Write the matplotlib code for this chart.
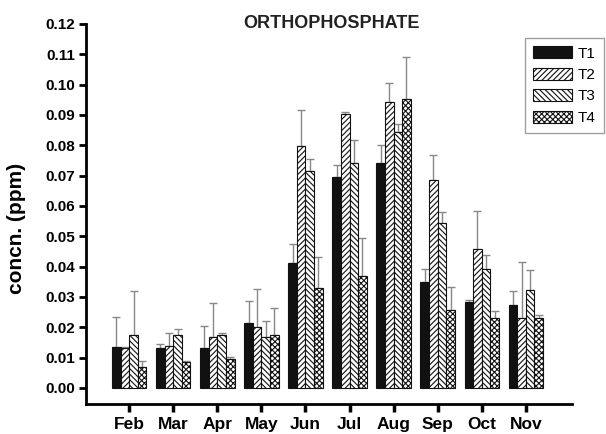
import matplotlib
matplotlib.use("Agg")
import matplotlib.pyplot as plt
import numpy as np

months = ["Feb", "Mar", "Apr", "May", "Jun", "Jul", "Aug", "Sep", "Oct", "Nov"]
series = ["T1", "T2", "T3", "T4"]

t1 = [0.0136, 0.0131, 0.0131, 0.0215, 0.0413, 0.0695, 0.0740, 0.0348, 0.0283, 0.0274]
t2 = [0.0133, 0.0138, 0.0169, 0.0202, 0.0798, 0.0903, 0.0944, 0.0684, 0.0457, 0.0230]
t3 = [0.0175, 0.0175, 0.0174, 0.0169, 0.0715, 0.0741, 0.0842, 0.0545, 0.0391, 0.0323]
t4 = [0.0070, 0.0087, 0.0095, 0.0175, 0.0331, 0.0370, 0.0953, 0.0257, 0.0230, 0.0230]

t1_err = [0.0235, 0.0144, 0.0204, 0.0286, 0.0475, 0.0735, 0.0801, 0.0392, 0.0290, 0.0318]
t2_err = [0.0136, 0.0180, 0.0279, 0.0325, 0.0917, 0.0908, 0.1005, 0.0768, 0.0584, 0.0416]
t3_err = [0.0318, 0.0193, 0.0180, 0.0221, 0.0754, 0.0818, 0.0870, 0.0581, 0.0439, 0.0389]
t4_err = [0.0089, 0.0090, 0.0103, 0.0265, 0.0431, 0.0494, 0.1090, 0.0332, 0.0254, 0.0241]

values = [t1, t2, t3, t4]
err_tops = [t1_err, t2_err, t3_err, t4_err]

plt.rcParams['font.family'] = ['Liberation Sans', 'DejaVu Sans']
plt.rcParams['hatch.color'] = '#333333'
plt.rcParams['hatch.linewidth'] = 0.8

fig = plt.figure(figsize=(6.06, 4.34), dpi=100)
ax = fig.add_axes([0.142, 0.069, 0.802, 0.876])

x = np.arange(len(months))
w = 0.195
styles = [dict(color='#111111', hatch=None),
          dict(color='white', hatch='//////'),
          dict(color='white', hatch='\\\\\\\\\\\\'),
          dict(color='white', hatch='xxxxxx')]

for i, (vals, tops, st) in enumerate(zip(values, err_tops, styles)):
    pos = x + (i - 1.5) * w
    ax.bar(pos, vals, width=w, facecolor=st['color'], edgecolor='#111111',
           linewidth=0.8, hatch=st['hatch'], label=series[i], zorder=3)
    up = np.maximum(np.array(tops) - np.array(vals), 0)
    ax.errorbar(pos, vals, yerr=[np.zeros_like(up), up], fmt='none',
                ecolor='#888888', elinewidth=1.0, capsize=3, capthick=1.0, zorder=2)

ax.set_xlim(-0.98, 10.05)
ax.set_ylim(-0.0053, 0.12)
yt = np.arange(0, 0.1201, 0.01)
ax.set_yticks(yt)
ax.set_yticklabels([f"{v:.2f}" for v in yt])
ax.set_xticks(x)
ax.set_xticklabels(months)

for s in ['top', 'right']:
    ax.spines[s].set_visible(False)
for s in ['left', 'bottom']:
    ax.spines[s].set_linewidth(2)
ax.tick_params(axis='y', width=2, length=5, direction='out', labelsize=11, pad=3)
ax.tick_params(axis='x', width=2.5, length=6, direction='out', labelsize=12.5, pad=3)
for lbl in ax.get_xticklabels() + ax.get_yticklabels():
    lbl.set_fontweight('bold')

fig.text(17 / 606, 1 - 228 / 434, "concn. (ppm)", rotation=90, fontsize=15,
         fontweight='bold', ha='center', va='center')
fig.text(331 / 606, 1 - 23 / 434, "ORTHOPHOSPHATE", fontsize=13,
         fontweight='bold', ha='center', va='center', color='#222222')

leg = ax.legend(loc='upper right', bbox_to_anchor=((604 - 86) / 486, (404 - 38) / 380),
                fontsize=11, frameon=True, fancybox=False, edgecolor='#888888',
                handlelength=2.55, handleheight=0.85, labelspacing=0.46,
                borderpad=0.55, handletextpad=0.35, borderaxespad=0)
leg.get_frame().set_linewidth(1.0)

fig.savefig("out.png", dpi=100)
